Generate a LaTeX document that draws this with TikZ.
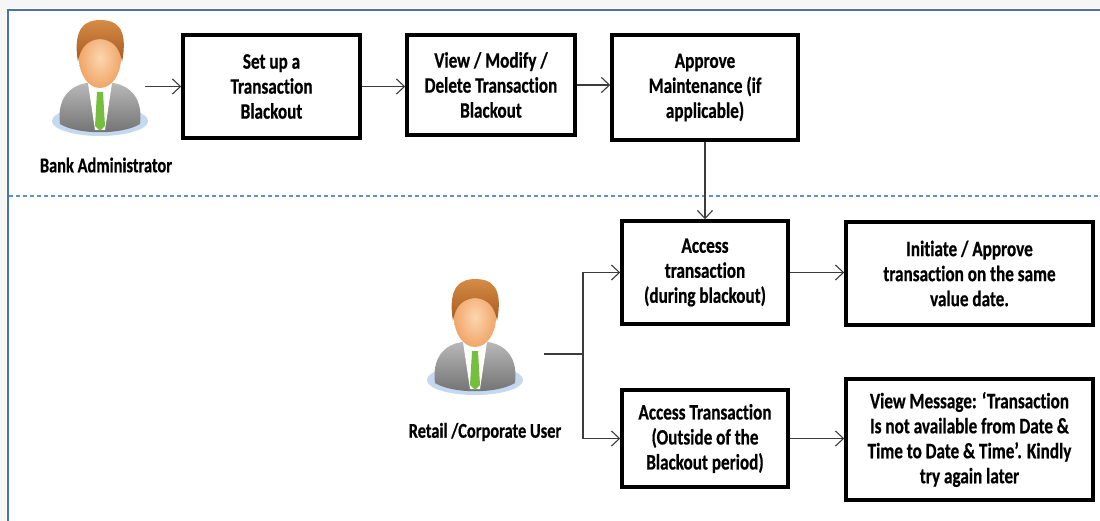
\documentclass[tikz,border=0pt]{standalone}
\usepackage{fontspec}
\newfontfamily\boxfont{Carlito Bold}[FakeStretch=0.78, FakeBold=0.6,
  Ligatures={NoCommon, NoDiscretionary, NoRare}]
\usetikzlibrary{arrows.meta}

\definecolor{frameblue}{RGB}{79,112,168}
\definecolor{dashblue}{RGB}{98,142,206}
\definecolor{linegray}{RGB}{60,60,60}
\definecolor{skin}{RGB}{252,214,176}
\definecolor{skindark}{RGB}{240,166,104}
\definecolor{hair}{RGB}{165,88,32}
\definecolor{hairlight}{RGB}{214,140,70}
\definecolor{suitlight}{RGB}{184,184,184}
\definecolor{suitdark}{RGB}{112,112,112}
\definecolor{tiegreen}{RGB}{118,190,62}
\definecolor{basecol}{RGB}{196,216,240}

% little bust icon, origin at the top of the hair
\tikzset{
  pics/person/.style={code={
    \fill[basecol] (0,101) ellipse (48 and 15);
    \shade[top color=suitlight, bottom color=suitdark]
      (-40,104) .. controls (-43,80) and (-32,66) .. (-13,63) -- (13,63)
      .. controls (32,66) and (43,80) .. (40,104)
      .. controls (22,115) and (-22,115) .. cycle;
    \fill[white] (-12,63) -- (12,63) -- (5,110) -- (-5,110) -- cycle;
    \fill[skindark] (-8,52) rectangle (8,66);
    \fill[tiegreen] (-3,72) -- (3,72) -- (5,106) -- (0,111) -- (-5,106) -- cycle;
    \shade[inner color=skin, outer color=skindark] (0,38) ellipse (21 and 30);
    \shade[top color=hairlight, bottom color=hair]
      (-22,42) .. controls (-28,6) and (-13,0) .. (0,0)
      .. controls (15,0) and (29,6) .. (22,42)
      .. controls (20,28) and (13,20) .. (0,19)
      .. controls (-13,20) and (-20,28) .. cycle;
  }}
}

\begin{document}
\begin{tikzpicture}[x=1pt, y=-1pt,
    stepbox/.style={draw=black, line width=3.5pt, align=center, inner sep=2pt,
      font=\boxfont\fontsize{22}{25}\selectfont},
    who/.style={align=center, font=\boxfont\fontsize{21}{24}\selectfont},
    bust/.style={minimum width=90, minimum height=115, inner sep=0pt},
    arr/.style={draw=linegray, line width=1.1pt,
      -{Straight Barb[length=8pt, width=15pt, line width=1.1pt]}}]
    \useasboundingbox (0,0) rectangle (1100,521);

    % page edge and frame
    \fill[gray!7] (0,0) rectangle (1100,521);
    \fill[white] (6,8) rectangle (1100,521);
    \draw[frameblue, line width=2pt] (8,521) -- (8,10) -- (1100,10);
    \draw[dashblue, line width=1.6pt, dash pattern=on 4pt off 3pt] (9,196) -- (1100,196);

    % the two actors
    \node[bust] (admin) at (100,78) {};
    \pic at (100,20) {person};
    \node[who] (adminlbl) at (106,165) {Bank Administrator};

    \node[bust] (user) at (475,336) {};
    \pic at (475,279) {person};
    \node[who] (userlbl) at (485,432) {Retail /Corporate User};
    \coordinate (userout) at (544,354);
    \coordinate (split) at (583,354);

    % maintenance steps
    \node[stepbox, minimum width=177, minimum height=103] (setup) at (271.5,86.5)
      {Set up a\\Transaction\\Blackout};
    \node[stepbox, minimum width=168, minimum height=100] (modify) at (491,85)
      {View / Modify /\\Delete Transaction\\Blackout};
    \node[stepbox, minimum width=186, minimum height=105] (approve) at (705,87.5)
      {Approve\\Maintenance (if\\applicable)};

    % user side
    \node[stepbox, minimum width=166, minimum height=103] (during) at (705,272.5)
      {Access\\transaction\\(during blackout)};
    \node[stepbox, minimum width=247, minimum height=103] (initiate) at (969.5,273.5)
      {Initiate / Approve\\transaction on the same\\value date.};
    \node[stepbox, minimum width=166, minimum height=97] (outside) at (705,438.5)
      {Access Transaction\\(Outside of the\\Blackout period)};
    \node[stepbox, minimum width=247, minimum height=121] (message) at (969.5,439.5)
      {View Message: ‘Transaction\\Is not available from Date \&\\Time to Date \& Time’. Kindly\\try again later};

    \draw[arr] (admin.east |- setup.west) -- (setup.west);
    \draw[arr] (setup.east) -- (setup.east -| modify.west);
    \draw[arr] (modify.east) -- (modify.east -| approve.west);
    \draw[arr] (approve.south) -- (during.north);
    \draw[arr] (during.east) -- (during.east -| initiate.west);
    \draw[draw=linegray, line width=1.1pt] (userout) -- (split);
    \draw[arr] (split) |- (during.west);
    \draw[arr] (split) |- (outside.west);
    \draw[arr] (outside.east) -- (outside.east -| message.west);
\end{tikzpicture}
\end{document}
